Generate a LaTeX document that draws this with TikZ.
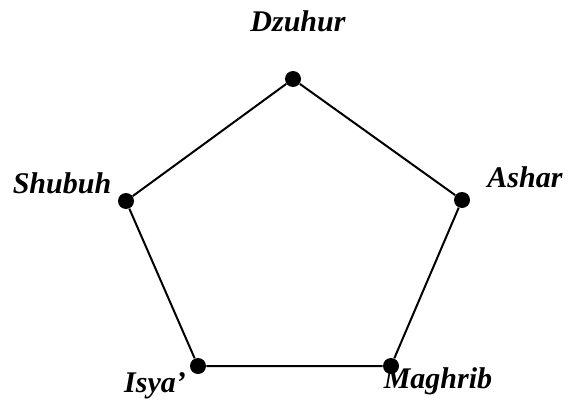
\documentclass[tikz,border=0pt]{standalone}
\usepackage{fontspec}
\setmainfont{Liberation Serif}
\usepackage{tikz}
\tikzset{
  waktu/.style={circle, fill=black, minimum size=8pt, inner sep=0pt},
  sisi/.style={line width=1pt, black},
  nama/.style={font=\fontsize{15}{18}\selectfont\bfseries\itshape, anchor=base, inner sep=0pt},
}

\begin{document}
\begin{tikzpicture}[x=0.5pt,y=-0.5pt]
\useasboundingbox (0,0) rectangle (568,407);
\node[waktu] (dzuhur) at (293,79) {};
\node[waktu] (ashar) at (462,200) {};
\node[waktu] (maghrib) at (391,366) {};
\node[waktu] (isya) at (198,366) {};
\node[waktu] (shubuh) at (126,201) {};
\draw[sisi] (dzuhur) -- (ashar) -- (maghrib) -- (isya) -- (shubuh) -- (dzuhur);
\node[nama] (tdzuhur) at (298,32) {Dzuhur};
\node[nama] (tashar) at (525,187) {Ashar};
\node[nama] (tmaghrib) at (438,388) {Maghrib};
\node[nama] (tisya) at (155,392) {Isya'};
\node[nama] (tshubuh) at (62,193) {Shubuh};
\end{tikzpicture}
\end{document}
